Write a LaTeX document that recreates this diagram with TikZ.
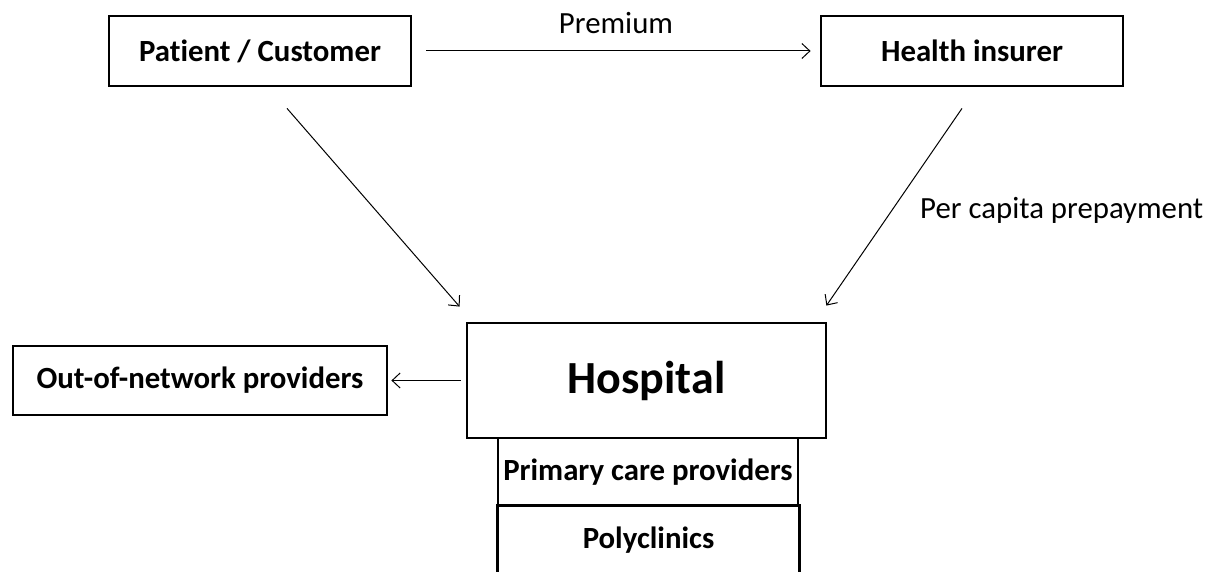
\documentclass[tikz,border=0pt]{standalone}
\usepackage{fontspec}
\setmainfont{Carlito}[Ligatures={NoCommon}]
\usetikzlibrary{arrows.meta,calc}
\begin{document}
\begin{tikzpicture}[x=1pt,y=-1pt,
  box/.style={draw, line width=2.8pt, inner sep=0pt},
  bigtext/.style={font=\bfseries\fontsize{30.8}{36}\selectfont},
  conn/.style={line width=1pt, -{Straight Barb[length=8pt,width=15pt]}},
  lbl/.style={font=\fontsize{30.8}{36}\selectfont, inner sep=0pt}]
\useasboundingbox (0,0) rectangle (1215,572);
\node[box, bigtext, minimum width=302pt, minimum height=70pt] (pat) at (260,51) {Patient / Customer};
\node[box, bigtext, minimum width=302pt, minimum height=70pt] (ins) at (972,51) {Health insurer};
\node[box, font=\bfseries\fontsize{46}{52}\selectfont, minimum width=359pt, minimum height=115pt] (hosp) at (646.5,380.5) {Hospital};
\node[box, bigtext, minimum width=374pt, minimum height=69pt] (out) at (200,380.5) {Out-of-network providers};
\node[box, bigtext, minimum width=300pt, minimum height=68pt] (prim) at (648,472) {Primary care providers};
\node[bigtext, minimum width=302pt, minimum height=68pt, inner sep=0pt] (poly) at (648.5,540) {Polyclinics};
\draw[line width=2.8pt] (poly.south west) -- (poly.north west) -- (poly.north east) -- (poly.south east);
\draw[conn, shorten <=14pt, shorten >=9pt] (pat.east) -- (ins.west) node[lbl, midway, above=17pt] {Premium};
\draw[conn] ($(pat.south)+(27,21)$) -- ($(hosp.north west)+(-6,-15)$);
\draw[conn] ($(ins.south)+(-10,21)$) -- ($(hosp.north east)+(-1,-16)$);
\node[lbl, anchor=west] (pcp) at (920,210) {Per capita prepayment};
\draw[conn, shorten <=5pt, shorten >=3pt] (hosp.west) -- (out.east);
\end{tikzpicture}
\end{document}
